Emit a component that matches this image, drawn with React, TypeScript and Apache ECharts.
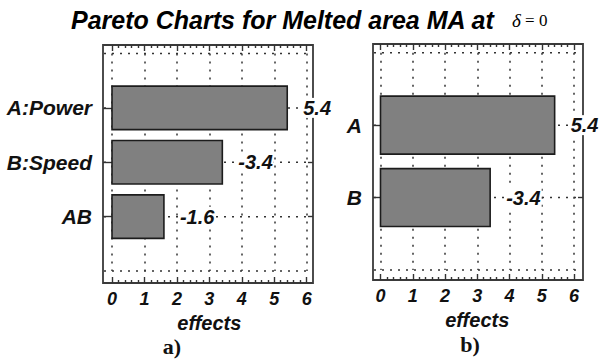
import React, { useEffect, useRef } from "react";
import * as echarts from "echarts";

// ---------- data ----------
const titleText = "Pareto Charts for Melted area MA at";
const titleDelta = "δ";
const titleCond = " = 0";
const xAxisName = "effects";
const effectMin = 0;
const effectMax = 6;
const effectStep = 1;

const leftCategories = ["A:Power", "B:Speed", "AB"];
const leftEffects = [5.4, -3.4, -1.6];
const rightCategories = ["A", "B"];
const rightEffects = [5.4, -3.4];
const panelCaptions = ["a)", "b)"];

// ---------- layout / style ----------
const SANS = '"Liberation Sans", Arial, Helvetica, sans-serif';
const SERIF = '"Liberation Serif", "Times New Roman", serif';
const INK = "#111";
const LINE = "#333";
const DOT = [2, 6];
const BAR_HALF = 0.4;

const panels = [
  {
    frame: { l: 103, t: 45, r: 313, b: 283 },
    data: { l: 112, t: 53.5, r: 306.7, b: 271 },
    cats: leftCategories,
    effects: leftEffects,
    caption: panelCaptions[0],
    capX: 172,
    capY: 346,
  },
  {
    frame: { l: 373, t: 44, r: 583, b: 280 },
    data: { l: 380.5, t: 52.7, r: 574, b: 270 },
    cats: rightCategories,
    effects: rightEffects,
    caption: panelCaptions[1],
    capX: 470,
    capY: 344,
  },
];

function buildOption() {
  const grid: any[] = [];
  const xAxis: any[] = [];
  const yAxis: any[] = [];
  const series: any[] = [];
  const graphic: any[] = [];

  const tickStyle = { color: LINE, width: 1.4 };

  panels.forEach((p) => {
    const f = p.frame;
    const d = p.data;
    const n = p.cats.length;
    const yTop = n + 1;
    const ppuX = (d.r - d.l) / (effectMax - effectMin);
    const ppuY = (d.b - d.t) / yTop;
    const fxMin = effectMin - (d.l - f.l) / ppuX;
    const fxMax = effectMax + (f.r - d.r) / ppuX;
    const fyMin = 0 - (f.b - d.b) / ppuY;
    const fyMax = yTop + (d.t - f.t) / ppuY;

    const gF = grid.length;
    grid.push({
      left: f.l,
      top: f.t,
      width: f.r - f.l,
      height: f.b - f.t,
      show: true,
      borderColor: "#3a3a3a",
      borderWidth: 1.8,
      backgroundColor: "transparent",
    });
    const gD = grid.length;
    grid.push({
      left: d.l,
      top: d.t,
      width: d.r - d.l,
      height: d.b - d.t,
      show: false,
    });

    const xF = xAxis.length;
    xAxis.push({ gridIndex: gF, type: "value", min: fxMin, max: fxMax, show: false });
    xAxis.push({
      gridIndex: gD,
      type: "value",
      min: effectMin,
      max: effectMax,
      interval: effectStep,
      position: "bottom",
      offset: f.b - d.b,
      axisLine: { show: false, onZero: false },
      axisTick: { show: true, inside: true, length: 6, lineStyle: tickStyle },
      minorTick: { show: true, splitNumber: 5, length: 3, lineStyle: tickStyle },
      axisLabel: {
        margin: 7,
        color: INK,
        fontFamily: SANS,
        fontSize: 18,
        fontWeight: "bold",
        fontStyle: "italic",
      },
      splitLine: { show: true, lineStyle: { color: LINE, width: 1.5, type: DOT } },
      name: xAxisName,
      nameLocation: "middle",
      nameGap: 27,
      nameTextStyle: {
        color: INK,
        fontFamily: SANS,
        fontSize: 20,
        fontWeight: "bold",
        fontStyle: "italic",
      },
    });
    xAxis.push({
      gridIndex: gD,
      type: "value",
      min: effectMin,
      max: effectMax,
      interval: effectStep,
      position: "top",
      offset: d.t - f.t,
      axisLine: { show: false, onZero: false },
      axisTick: { show: true, inside: true, length: 6, lineStyle: tickStyle },
      minorTick: { show: true, splitNumber: 5, length: 3, lineStyle: tickStyle },
      axisLabel: { show: false },
      splitLine: { show: false },
    });

    const catData = ["", ...p.cats.slice().reverse(), ""];
    const tickFilter = (i: number) => i > 0 && i <= n;
    const yF = yAxis.length;
    yAxis.push({ gridIndex: gF, type: "value", min: fyMin, max: fyMax, show: false });
    yAxis.push({
      gridIndex: gD,
      type: "category",
      data: catData,
      boundaryGap: false,
      position: "left",
      offset: d.l - f.l,
      axisLine: { show: false, onZero: false },
      axisTick: { show: true, inside: true, length: d.l - f.l, interval: tickFilter, lineStyle: tickStyle },
      axisLabel: {
        interval: 0,
        margin: 11,
        color: INK,
        fontFamily: SANS,
        fontSize: 21,
        fontWeight: "bold",
        fontStyle: "italic",
      },
      splitLine: { show: false },
    });
    yAxis.push({
      gridIndex: gD,
      type: "category",
      data: catData,
      boundaryGap: false,
      position: "right",
      offset: f.r - d.r,
      axisLine: { show: false, onZero: false },
      axisTick: { show: true, inside: true, length: 5, interval: tickFilter, lineStyle: tickStyle },
      axisLabel: { show: false },
      splitLine: { show: false },
    });

    const levels: number[][] = [];
    for (let v = 0; v <= yTop; v++) levels.push([0, v]);
    series.push({
      type: "custom",
      xAxisIndex: xF,
      yAxisIndex: yF,
      z: 1,
      silent: true,
      data: levels,
      renderItem: (params: any, api: any) => {
        const y = api.coord([0, api.value(1)])[1];
        const cs = params.coordSys;
        return {
          type: "line",
          shape: { x1: cs.x + 1, y1: y, x2: cs.x + cs.width - 1, y2: y },
          style: { stroke: LINE, lineWidth: 1.5, lineDash: DOT },
        };
      },
    });

    series.push({
      type: "custom",
      xAxisIndex: xF,
      yAxisIndex: yF,
      z: 3,
      silent: true,
      data: p.cats.map((c, i) => [Math.abs(p.effects[i]), n - i, p.effects[i]]),
      renderItem: (params: any, api: any) => {
        const len = api.value(0);
        const y = api.value(1);
        const eff = api.value(2);
        const a = api.coord([0, y + BAR_HALF]);
        const b = api.coord([len, y - BAR_HALF]);
        return {
          type: "group",
          children: [
            {
              type: "rect",
              shape: { x: a[0], y: a[1], width: b[0] - a[0], height: b[1] - a[1] },
              style: { fill: "#808080", stroke: "#1c1c1c", lineWidth: 1.6 },
            },
            {
              type: "text",
              x: b[0] + 15,
              y: (a[1] + b[1]) / 2,
              style: {
                text: Number(eff).toFixed(1),
                fill: INK,
                font: `italic bold 20px ${SANS}`,
                align: "left",
                verticalAlign: "middle",
                backgroundColor: "#ffffff",
                padding: [0, 1, 0, 1],
              },
            },
          ],
        };
      },
    });

    graphic.push({
      type: "text",
      x: p.capX,
      y: p.capY,
      style: {
        text: p.caption,
        fill: INK,
        font: `bold 22px ${SERIF}`,
        align: "center",
        verticalAlign: "middle",
      },
    });
  });

  return {
    animation: false,
    backgroundColor: "#ffffff",
    title: [
      {
        text: titleText,
        left: 71,
        top: 7,
        padding: 0,
        textStyle: {
          color: "#000",
          fontFamily: SANS,
          fontSize: 25,
          fontWeight: "bold",
          fontStyle: "italic",
        },
      },
      {
        text: `{d|${titleDelta}}{n|${titleCond}}`,
        left: 512,
        top: 11,
        padding: 0,
        textStyle: {
          fontWeight: "normal",
          rich: {
            d: { fontFamily: SERIF, fontSize: 19, fontStyle: "italic", fontWeight: "normal", color: "#000" },
            n: { fontFamily: SERIF, fontSize: 17, fontWeight: "normal", color: "#000" },
          },
        },
      },
    ],
    grid,
    xAxis,
    yAxis,
    series,
    graphic,
  };
}

export default function App() {
  const ref = useRef<HTMLDivElement>(null);
  useEffect(() => {
    if (!ref.current) return;
    const chart = echarts.init(ref.current, undefined, { renderer: "svg" });
    chart.setOption(buildOption() as any);
    return () => chart.dispose();
  }, []);
  return (
    <div
      ref={ref}
      style={{ position: "fixed", left: 0, top: 0, width: 601, height: 360, background: "#fff" }}
    />
  );
}
